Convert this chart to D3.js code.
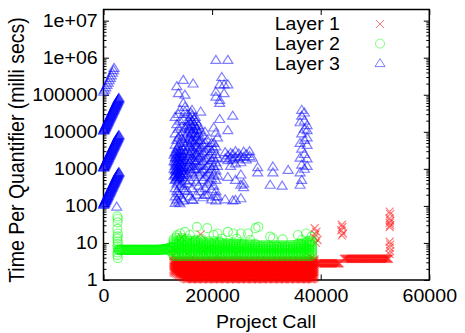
<!DOCTYPE html>
<html>
<head>
<meta charset="utf-8">
<script src="https://cdn.jsdelivr.net/npm/d3@7"></script>
<style>
  body { margin: 0; background: #fff; }
</style>
</head>
<body>
<div class="scatter-chart"></div>
<script>
// ---- chart values ----
const layerNames = ['Layer 1', 'Layer 2', 'Layer 3'];
const layerColors = ['#ff0000', '#00ff00', '#0000ff'];
const xTickValues = [0, 20000, 40000, 60000];
const yTickValues = [1, 10, 100, 1000, 10000, 100000, 1000000, 10000000];
const yTickLabels = ['1', '10', '100', '1000', '10000', '100000', '1e+06', '1e+07'];
const xLabel = 'Project Call';
const yLabel = 'Time Per Quantifier (milli secs)';

// Layer 1 (red): dense cloud, columns of [x, [values]]
const layer1Cloud = [
  [12900, [1.6, 1.8, 2.0, 2.25, 2.5, 2.8, 3.1, 3.4, 4.5]],
  [13150, [1.55, 1.75, 1.95, 2.2, 2.45, 2.75, 3.05, 3.4]],
  [13400, [1.5, 1.7, 1.9, 2.1, 2.35, 2.64, 2.96, 3.3, 3.6, 6]],
  [13650, [1.42, 1.6, 1.8, 2.0, 2.25, 2.5, 2.8, 3.15, 3.5]],
  [13900, [1.35, 1.5, 1.7, 1.9, 2.1, 2.4, 2.7, 3.0, 3.4]],
  [14150, [1.3, 1.45, 1.62, 1.82, 2.05, 2.3, 2.58, 2.9, 3.25]],
  [14400, [1.25, 1.4, 1.55, 1.75, 1.95, 2.2, 2.45, 2.75, 3.1, 3.5, 14]],
  [14650, [1.18, 1.32, 1.48, 1.66, 1.86, 2.08, 2.33, 2.6, 2.92, 3.28]],
  [14900, [1.12, 1.25, 1.4, 1.56, 1.75, 1.95, 2.2, 2.45, 2.75, 3.1, 3.45]],
  [15150, [1.07, 1.2, 1.35, 1.51, 1.7, 1.9, 2.14, 2.4, 2.7, 3.02, 3.38]],
  [15400, [1.05, 1.18, 1.32, 1.48, 1.66, 1.86, 2.1, 2.35, 2.64, 2.96, 3.3, 5]],
  [15650, [1.07, 1.2, 1.35, 1.51, 1.7, 1.9, 2.14, 2.4, 2.7, 3.02, 3.38]],
  [15900, [1.09, 1.23, 1.38, 1.54, 1.73, 1.94, 2.18, 2.45, 2.75, 3.08, 3.45]],
  [16150, [1.06, 1.19, 1.34, 1.5, 1.68, 1.88, 2.12, 2.38, 2.67, 3.0, 3.35]],
  [16400, [1.05, 1.18, 1.32, 1.48, 1.66, 1.86, 2.1, 2.35, 2.64, 2.96, 3.3, 4]],
  [16650, [1.07, 1.2, 1.35, 1.51, 1.7, 1.9, 2.14, 2.4, 2.7, 3.02, 3.38]],
  [16900, [1.1, 1.24, 1.39, 1.55, 1.74, 1.95, 2.19, 2.46, 2.76, 3.1, 3.45]],
  [17150, [1.06, 1.19, 1.34, 1.5, 1.68, 1.88, 2.12, 2.38, 2.67, 3.0, 3.35]],
  [17400, [1.05, 1.18, 1.32, 1.48, 1.66, 1.86, 2.1, 2.35, 2.64, 2.96, 3.3]],
  [17650, [1.07, 1.2, 1.35, 1.51, 1.7, 1.9, 2.14, 2.4, 2.7, 3.02, 3.38]],
  [17900, [1.09, 1.23, 1.38, 1.54, 1.73, 1.94, 2.18, 2.45, 2.75, 3.08, 3.45, 17]],
  [18150, [1.06, 1.19, 1.34, 1.5, 1.68, 1.88, 2.12, 2.38, 2.67, 3.0, 3.35]],
  [18400, [1.05, 1.18, 1.32, 1.48, 1.66, 1.86, 2.1, 2.35, 2.64, 2.96, 3.3, 6]],
  [18650, [1.07, 1.2, 1.35, 1.51, 1.7, 1.9, 2.14, 2.4, 2.7, 3.02, 3.38]],
  [18900, [1.12, 1.25, 1.4, 1.56, 1.75, 1.96, 2.2, 2.47, 2.77, 3.1, 3.45]],
  [19150, [1.06, 1.19, 1.34, 1.5, 1.68, 1.88, 2.12, 2.38, 2.67, 3.0, 3.35]],
  [19400, [1.05, 1.18, 1.32, 1.48, 1.66, 1.86, 2.1, 2.35, 2.64, 2.96, 3.3]],
  [19650, [1.07, 1.2, 1.35, 1.51, 1.7, 1.9, 2.14, 2.4, 2.7, 3.02, 3.38]],
  [19900, [1.09, 1.23, 1.38, 1.54, 1.73, 1.94, 2.18, 2.45, 2.75, 3.08, 3.45]],
  [20150, [1.06, 1.19, 1.34, 1.5, 1.68, 1.88, 2.12, 2.38, 2.67, 3.0, 3.35]],
  [20400, [1.05, 1.18, 1.32, 1.48, 1.66, 1.86, 2.1, 2.35, 2.64, 2.96, 3.3]],
  [20650, [1.07, 1.2, 1.35, 1.51, 1.7, 1.9, 2.14, 2.4, 2.7, 3.02, 3.38]],
  [20900, [1.1, 1.24, 1.39, 1.55, 1.74, 1.95, 2.19, 2.46, 2.76, 3.1, 3.45, 4.5]],
  [21150, [1.06, 1.19, 1.34, 1.5, 1.68, 1.88, 2.12, 2.38, 2.67, 3.0, 3.35]],
  [21400, [1.05, 1.18, 1.32, 1.48, 1.66, 1.86, 2.1, 2.35, 2.64, 2.96, 3.3]],
  [21650, [1.07, 1.2, 1.35, 1.51, 1.7, 1.9, 2.14, 2.4, 2.7, 3.02, 3.38]],
  [21900, [1.09, 1.23, 1.38, 1.54, 1.73, 1.94, 2.18, 2.45, 2.75, 3.08, 3.45]],
  [22150, [1.06, 1.19, 1.34, 1.5, 1.68, 1.88, 2.12, 2.38, 2.67, 3.0, 3.35]],
  [22400, [1.05, 1.18, 1.32, 1.48, 1.66, 1.86, 2.1, 2.35, 2.64, 2.96, 3.3]],
  [22650, [1.07, 1.2, 1.35, 1.51, 1.7, 1.9, 2.14, 2.4, 2.7, 3.02, 3.38]],
  [22900, [1.12, 1.25, 1.4, 1.56, 1.75, 1.96, 2.2, 2.47, 2.77, 3.1, 3.45]],
  [23150, [1.06, 1.19, 1.34, 1.5, 1.68, 1.88, 2.12, 2.38, 2.67, 3.0, 3.35]],
  [23400, [1.05, 1.18, 1.32, 1.48, 1.66, 1.86, 2.1, 2.35, 2.64, 2.96, 3.3]],
  [23650, [1.07, 1.2, 1.35, 1.51, 1.7, 1.9, 2.14, 2.4, 2.7, 3.02, 3.38]],
  [23900, [1.09, 1.23, 1.38, 1.54, 1.73, 1.94, 2.18, 2.45, 2.75, 3.08, 3.45]],
  [24150, [1.06, 1.19, 1.34, 1.5, 1.68, 1.88, 2.12, 2.38, 2.67, 3.0, 3.35]],
  [24400, [1.05, 1.18, 1.32, 1.48, 1.66, 1.86, 2.1, 2.35, 2.64, 2.96, 3.3, 5]],
  [24650, [1.07, 1.2, 1.35, 1.51, 1.7, 1.9, 2.14, 2.4, 2.7, 3.02, 3.38]],
  [24900, [1.1, 1.24, 1.39, 1.55, 1.74, 1.95, 2.19, 2.46, 2.76, 3.1, 3.45]],
  [25150, [1.06, 1.19, 1.34, 1.5, 1.68, 1.88, 2.12, 2.38, 2.67, 3.0, 3.35]],
  [25400, [1.05, 1.18, 1.32, 1.48, 1.66, 1.86, 2.1, 2.35, 2.64, 2.96, 3.3]],
  [25650, [1.07, 1.2, 1.35, 1.51, 1.7, 1.9, 2.14, 2.4, 2.7, 3.02, 3.38]],
  [25900, [1.09, 1.23, 1.38, 1.54, 1.73, 1.94, 2.18, 2.45, 2.75, 3.08, 3.45]],
  [26150, [1.06, 1.19, 1.34, 1.5, 1.68, 1.88, 2.12, 2.38, 2.67, 3.0, 3.35]],
  [26400, [1.05, 1.18, 1.32, 1.48, 1.66, 1.86, 2.1, 2.35, 2.64, 2.96, 3.3]],
  [26650, [1.07, 1.2, 1.35, 1.51, 1.7, 1.9, 2.14, 2.4, 2.7, 3.02, 3.38]],
  [26900, [1.12, 1.25, 1.4, 1.56, 1.75, 1.96, 2.2, 2.47, 2.77, 3.1, 3.45]],
  [27150, [1.06, 1.19, 1.34, 1.5, 1.68, 1.88, 2.12, 2.38, 2.67, 3.0, 3.35]],
  [27400, [1.05, 1.18, 1.32, 1.48, 1.66, 1.86, 2.1, 2.35, 2.64, 2.96, 3.3]],
  [27650, [1.07, 1.2, 1.35, 1.51, 1.7, 1.9, 2.14, 2.4, 2.7, 3.02, 3.38]],
  [27900, [1.09, 1.23, 1.38, 1.54, 1.73, 1.94, 2.18, 2.45, 2.75, 3.08, 3.45]],
  [28150, [1.06, 1.19, 1.34, 1.5, 1.68, 1.88, 2.12, 2.38, 2.67, 3.0, 3.35]],
  [28400, [1.05, 1.18, 1.32, 1.48, 1.66, 1.86, 2.1, 2.35, 2.64, 2.96, 3.3]],
  [28650, [1.07, 1.2, 1.35, 1.51, 1.7, 1.9, 2.14, 2.4, 2.7, 3.02, 3.38]],
  [28900, [1.1, 1.24, 1.39, 1.55, 1.74, 1.95, 2.19, 2.46, 2.76, 3.1, 3.45]],
  [29150, [1.06, 1.19, 1.34, 1.5, 1.68, 1.88, 2.12, 2.38, 2.67, 3.0, 3.35]],
  [29400, [1.05, 1.18, 1.32, 1.48, 1.66, 1.86, 2.1, 2.35, 2.64, 2.96, 3.3]],
  [29650, [1.07, 1.2, 1.35, 1.51, 1.7, 1.9, 2.14, 2.4, 2.7, 3.02, 3.38]],
  [29900, [1.09, 1.23, 1.38, 1.54, 1.73, 1.94, 2.18, 2.45, 2.75, 3.08, 3.45]],
  [30150, [1.06, 1.19, 1.34, 1.5, 1.68, 1.88, 2.12, 2.38, 2.67, 3.0, 3.35]],
  [30400, [1.05, 1.18, 1.32, 1.48, 1.66, 1.86, 2.1, 2.35, 2.64, 2.96, 3.3]],
  [30650, [1.07, 1.2, 1.35, 1.51, 1.7, 1.9, 2.14, 2.4, 2.7, 3.02, 3.38]],
  [30900, [1.12, 1.25, 1.4, 1.56, 1.75, 1.96, 2.2, 2.47, 2.77, 3.1, 3.45]],
  [31150, [1.06, 1.19, 1.34, 1.5, 1.68, 1.88, 2.12, 2.38, 2.67, 3.0, 3.35]],
  [31400, [1.05, 1.18, 1.32, 1.48, 1.66, 1.86, 2.1, 2.35, 2.64, 2.96, 3.3]],
  [31650, [1.07, 1.2, 1.35, 1.51, 1.7, 1.9, 2.14, 2.4, 2.7, 3.02, 3.38]],
  [31900, [1.09, 1.23, 1.38, 1.54, 1.73, 1.94, 2.18, 2.45, 2.75, 3.08, 3.45]],
  [32150, [1.06, 1.19, 1.34, 1.5, 1.68, 1.88, 2.12, 2.38, 2.67, 3.0, 3.35]],
  [32400, [1.05, 1.18, 1.32, 1.48, 1.66, 1.86, 2.1, 2.35, 2.64, 2.96, 3.3]],
  [32650, [1.07, 1.2, 1.35, 1.51, 1.7, 1.9, 2.14, 2.4, 2.7, 3.02, 3.38]],
  [32900, [1.1, 1.24, 1.39, 1.55, 1.74, 1.95, 2.19, 2.46, 2.76, 3.1, 3.45]],
  [33150, [1.06, 1.19, 1.34, 1.5, 1.68, 1.88, 2.12, 2.38, 2.67, 3.0, 3.35]],
  [33400, [1.05, 1.18, 1.32, 1.48, 1.66, 1.86, 2.1, 2.35, 2.64, 2.96, 3.3]],
  [33650, [1.07, 1.2, 1.35, 1.51, 1.7, 1.9, 2.14, 2.4, 2.7, 3.02, 3.38]],
  [33900, [1.09, 1.23, 1.38, 1.54, 1.73, 1.94, 2.18, 2.45, 2.75, 3.08, 3.45]],
  [34150, [1.06, 1.19, 1.34, 1.5, 1.68, 1.88, 2.12, 2.38, 2.67, 3.0, 3.35]],
  [34400, [1.05, 1.18, 1.32, 1.48, 1.66, 1.86, 2.1, 2.35, 2.64, 2.96, 3.3]],
  [34650, [1.07, 1.2, 1.35, 1.51, 1.7, 1.9, 2.14, 2.4, 2.7, 3.02, 3.38]],
  [34900, [1.12, 1.25, 1.4, 1.56, 1.75, 1.96, 2.2, 2.47, 2.77, 3.1, 3.45]],
  [35150, [1.06, 1.19, 1.34, 1.5, 1.68, 1.88, 2.12, 2.38, 2.67, 3.0, 3.35]],
  [35400, [1.05, 1.18, 1.32, 1.48, 1.66, 1.86, 2.1, 2.35, 2.64, 2.96, 3.3]],
  [35650, [1.07, 1.2, 1.35, 1.51, 1.7, 1.9, 2.14, 2.4, 2.7, 3.02, 3.38]],
  [35900, [1.09, 1.23, 1.38, 1.54, 1.73, 1.94, 2.18, 2.45, 2.75, 3.08, 3.45]],
  [36150, [1.06, 1.19, 1.34, 1.5, 1.68, 1.88, 2.12, 2.38, 2.67, 3.0, 3.35]],
  [36400, [1.05, 1.18, 1.32, 1.48, 1.66, 1.86, 2.1, 2.35, 2.64, 2.96, 3.3]],
  [36650, [1.07, 1.2, 1.35, 1.51, 1.7, 1.9, 2.14, 2.4, 2.7, 3.02, 3.38]],
  [36900, [1.1, 1.24, 1.39, 1.55, 1.74, 1.95, 2.19, 2.46, 2.76, 3.1, 3.45]],
  [37150, [1.06, 1.19, 1.34, 1.5, 1.68, 1.88, 2.12, 2.38, 2.67, 3.0, 3.35]],
  [37400, [1.05, 1.18, 1.32, 1.48, 1.66, 1.86, 2.1, 2.35, 2.64, 2.96, 3.3, 3.8]],
  [37650, [1.07, 1.2, 1.35, 1.51, 1.7, 1.9, 2.14, 2.4, 2.7, 3.02, 3.38]],
  [37900, [1.09, 1.23, 1.38, 1.54, 1.73, 1.94, 2.18, 2.45, 2.75, 3.08, 3.45, 4.2]],
  [38150, [1.06, 1.19, 1.34, 1.5, 1.68, 1.88, 2.12, 2.38, 2.67, 3.0, 3.35]],
  [38400, [1.05, 1.18, 1.32, 1.48, 1.66, 1.86, 2.1, 2.35, 2.64, 2.96, 3.3, 4]],
  [38650, [1.1, 1.24, 1.39, 1.55, 1.74, 1.95, 2.19, 2.46, 2.76, 3.1, 3.45]],
  [38850, [1.15, 1.3, 1.45, 1.62, 1.82, 2.05, 2.3, 2.58, 2.9, 3.25, 3.6]]
];
const layer1StepLowX = [
  39300, 39450, 39600, 39750, 39900, 40050, 40200, 40350, 40500, 40650, 40800, 40950,
  41100, 41250, 41400, 41550, 41700, 41850, 42000, 42150, 42300, 42450, 42600, 42750,
  42900, 43050, 43200, 43350, 43500
];
const layer1StepLowY = [
  2.82, 2.8, 2.83, 2.82, 2.8, 2.84, 2.82, 2.8, 2.83, 2.82, 2.81, 2.83,
  2.82, 2.8, 2.83, 2.82, 2.81, 2.83, 2.82, 2.8, 2.83, 2.82, 2.81, 2.83,
  2.82, 2.8, 2.83, 2.82, 2.82
];
const layer1StepHighX = [
  44300, 44450, 44600, 44750, 44900, 45050, 45200, 45350, 45500, 45650, 45800, 45950,
  46100, 46250, 46400, 46550, 46700, 46850, 47000, 47150, 47300, 47450, 47600, 47750,
  47900, 48050, 48200, 48350, 48500, 48650, 48800, 48950, 49100, 49250, 49400, 49550,
  49700, 49850, 50000, 50150, 50300, 50450, 50600, 50750, 50900, 51050, 51200, 51350,
  51500, 51650, 51800, 51950, 52100, 52250, 52400, 52550
];
const layer1StepHighY = [
  3.75, 3.72, 3.76, 3.75, 3.73, 3.76, 3.75, 3.72, 3.76, 3.75, 3.73, 3.76,
  3.75, 3.72, 3.76, 3.75, 3.73, 3.76, 3.75, 3.72, 3.76, 3.75, 3.73, 3.76,
  3.75, 3.72, 3.76, 3.75, 3.73, 3.76, 3.75, 3.72, 3.76, 3.75, 3.73, 3.76,
  3.75, 3.72, 3.76, 3.75, 3.73, 3.76, 3.75, 3.72, 3.76, 3.75, 3.73, 3.76,
  3.75, 3.72, 3.76, 3.75, 3.73, 3.76, 3.75, 3.74
];
const layer1Outliers = [
  [38900, 25], [39200, 20], [39000, 17], [38800, 14], [39400, 12], [39100, 10],
  [43900, 31], [44000, 27], [43800, 22], [44100, 18], [43900, 16],
  [52700, 70], [52800, 60], [52700, 46], [52800, 40], [52700, 35], [52800, 30], [52700, 27],
  [52700, 10.8], [52800, 9], [52700, 7.5], [52800, 6], [52700, 5]
];

// Layer 2 (green)
const layer2Column = [
  [2550, 52], [2650, 45], [2600, 36], [2550, 24], [2650, 18], [2600, 15], [2550, 13],
  [2650, 11], [2600, 9.5], [2550, 8], [2650, 6.7], [2600, 5.5], [2550, 4.7], [2650, 3.9]
];
const layer2BandX = [
  2750, 2850, 2950, 3050, 3150, 3250, 3350, 3450, 3550, 3650, 3750, 3850, 3950, 4050,
  4150, 4250, 4350, 4450, 4550, 4650, 4750, 4850, 4950, 5050, 5150, 5250, 5350, 5450,
  5550, 5650, 5750, 5850, 5950, 6050, 6150, 6250, 6350, 6450, 6550, 6650, 6750, 6850,
  6950, 7050, 7150, 7250, 7350, 7450, 7550, 7650, 7750, 7850, 7950, 8050, 8150, 8250,
  8350, 8450, 8550, 8650, 8750, 8850, 8950, 9050, 9150, 9250, 9350, 9450, 9550, 9650,
  9750, 9850, 9950, 10050, 10150, 10250, 10350, 10450, 10550, 10650, 10750, 10850,
  10950, 11050, 11150, 11250, 11350, 11450, 11550, 11650, 11750, 11850, 11950, 12050,
  12150, 12250, 12350, 12450, 12550, 12650
];
const layer2BandY = [
  6.5, 6.48, 6.5, 6.45, 6.5, 6.52, 6.5, 6.48, 6.5, 6.55, 6.5, 6.48, 6.5, 6.45,
  6.5, 6.52, 6.5, 6.48, 6.5, 6.55, 6.5, 6.48, 6.5, 6.45, 6.5, 6.52, 6.5, 6.48,
  6.5, 6.55, 6.5, 6.48, 6.5, 6.45, 6.5, 6.52, 6.5, 6.48, 6.5, 6.55, 6.5, 6.48,
  6.5, 6.45, 6.5, 6.52, 6.5, 6.48, 6.5, 6.55, 6.5, 6.48, 6.5, 6.45, 6.5, 6.52,
  6.5, 6.48, 6.5, 6.55, 6.5, 6.48, 6.5, 6.45, 6.5, 6.52, 6.5, 6.48, 6.5, 6.55,
  6.5, 6.48, 6.5, 6.5, 6.55, 6.5, 6.55, 6.6, 6.6, 6.55, 6.6, 6.65,
  6.6, 6.7, 6.7, 6.75, 6.8, 6.85, 6.9, 7.0, 7.0, 6.4, 7.2, 6.3,
  7.35, 6.2, 7.5, 6.1, 7.6, 7.6
];
const layer2Cloud = [
  [12900, [4.4, 4.9, 5.5, 6.2, 6.9, 7.8, 8.7, 9.8, 11, 12.5]],
  [13400, [4.5, 5.0, 5.6, 6.3, 7.0, 7.9, 8.9, 10, 11.2, 14]],
  [13900, [4.4, 4.9, 5.5, 6.2, 6.9, 7.8, 8.7, 9.8, 11, 12]],
  [14400, [4.5, 5.0, 5.6, 6.3, 7.0, 7.9, 8.9, 10, 11.5, 13.5]],
  [14900, [4.4, 4.9, 5.5, 6.2, 6.9, 7.8, 8.7, 9.8, 11, 12]],
  [15400, [4.5, 5.0, 5.6, 6.3, 7.0, 7.9, 8.9, 10, 11.2, 13]],
  [15900, [4.4, 4.9, 5.5, 6.2, 6.9, 7.8, 8.7, 9.8, 11.5]],
  [16400, [4.5, 5.0, 5.6, 6.3, 7.0, 7.9, 8.9, 10, 11.2]],
  [16900, [4.4, 4.9, 5.5, 6.2, 6.9, 7.8, 8.7, 9.8, 11, 12]],
  [17400, [4.5, 5.0, 5.6, 6.3, 7.0, 7.9, 8.9, 10, 11]],
  [17900, [4.4, 4.9, 5.5, 6.2, 6.9, 7.8, 8.7, 9.8, 11.8]],
  [18400, [4.5, 5.0, 5.6, 6.3, 7.0, 7.9, 8.9, 10, 11]],
  [18900, [4.4, 4.9, 5.5, 6.2, 6.9, 7.8, 8.7, 9.8]],
  [19400, [4.5, 5.0, 5.6, 6.3, 7.0, 7.9, 8.9, 10, 11]],
  [19900, [4.4, 4.9, 5.5, 6.2, 6.9, 7.8, 8.7, 9.8]],
  [20400, [4.5, 5.0, 5.6, 6.3, 7.0, 7.9, 8.9, 10, 11.2]],
  [20900, [4.4, 4.9, 5.5, 6.2, 6.9, 7.8, 8.7, 9.8]],
  [21400, [4.5, 5.0, 5.6, 6.3, 7.0, 7.9, 8.9, 10, 10.8]],
  [21900, [4.4, 4.9, 5.5, 6.2, 6.9, 7.8, 8.7, 9.8]],
  [22400, [4.5, 5.0, 5.6, 6.3, 7.0, 7.9, 8.9, 9.8]],
  [22900, [4.4, 4.9, 5.5, 6.2, 6.9, 7.8, 8.7, 9.8]],
  [23400, [4.5, 5.0, 5.6, 6.3, 7.0, 7.9, 8.9, 9.6]],
  [23900, [4.4, 4.9, 5.5, 6.2, 6.9, 7.8, 8.7, 9.8]],
  [24400, [4.5, 5.0, 5.6, 6.3, 7.0, 7.9, 8.9, 9.6]],
  [24900, [4.4, 4.9, 5.5, 6.2, 6.9, 7.8, 8.7, 9.6]],
  [25400, [4.5, 5.0, 5.6, 6.3, 7.0, 7.9, 8.9, 9.4]],
  [25900, [4.4, 4.9, 5.5, 6.2, 6.9, 7.8, 8.7, 9.6]],
  [26400, [4.5, 5.0, 5.6, 6.3, 7.0, 7.9, 8.8]],
  [26900, [4.4, 4.9, 5.5, 6.2, 6.9, 7.8, 8.7, 9.6]],
  [27400, [4.5, 5.0, 5.6, 6.3, 7.0, 7.9, 8.8]],
  [27900, [4.4, 4.9, 5.5, 6.2, 6.9, 7.8, 8.7, 9.4]],
  [28400, [4.5, 5.0, 5.6, 6.3, 7.0, 7.9, 8.8]],
  [28900, [4.4, 4.9, 5.5, 6.2, 6.9, 7.8, 8.5]],
  [29400, [4.5, 5.0, 5.6, 6.3, 7.0, 7.9, 8.8]],
  [29900, [4.4, 4.9, 5.5, 6.2, 6.9, 7.8, 8.5]],
  [30400, [4.5, 5.0, 5.6, 6.3, 7.0, 7.9, 8.8]],
  [30900, [4.4, 4.9, 5.5, 6.2, 6.9, 7.8, 8.5]],
  [31400, [4.5, 5.0, 5.6, 6.3, 7.0, 7.9, 8.8]],
  [31900, [4.4, 4.9, 5.5, 6.2, 6.9, 7.8, 8.5]],
  [32400, [4.5, 5.0, 5.6, 6.3, 7.0, 7.9, 8.8]],
  [32900, [4.4, 4.9, 5.5, 6.2, 6.9, 7.8, 8.5]],
  [33400, [4.5, 5.0, 5.6, 6.3, 7.0, 7.9, 8.8]],
  [33900, [4.4, 4.9, 5.5, 6.2, 6.9, 7.8, 8.5]],
  [34400, [4.5, 5.0, 5.6, 6.3, 7.0, 7.9, 8.8]],
  [34900, [4.4, 4.9, 5.5, 6.2, 6.9, 7.8, 8.7]],
  [35400, [4.5, 5.0, 5.6, 6.3, 7.0, 7.9, 8.9]],
  [35900, [4.4, 4.9, 5.5, 6.2, 6.9, 7.8, 8.7, 9.6]],
  [36400, [4.5, 5.0, 5.6, 6.3, 7.0, 7.9, 8.9, 9.4]],
  [36900, [4.4, 4.9, 5.5, 6.2, 6.9, 7.8, 8.7, 9.8]],
  [37400, [4.5, 5.0, 5.6, 6.3, 7.0, 7.9, 8.9, 10, 11]],
  [37900, [4.4, 4.9, 5.5, 6.2, 6.9, 7.8, 8.7, 9.8, 11.5]],
  [38400, [4.5, 5.0, 5.6, 6.3, 7.0, 7.9, 8.9, 10, 11]]
];
const layer2Outliers = [
  [14100, 18], [15000, 20], [17200, 27], [15900, 16.4], [19100, 25], [20300, 16.4],
  [21000, 18], [22900, 20], [23900, 18], [25300, 18], [26600, 18], [28000, 25],
  [28500, 27], [30700, 14.8], [31200, 13.4], [35800, 16.4], [37300, 18], [38300, 14.8],
  [13500, 16], [18000, 13], [24500, 13], [33000, 12.5], [36500, 12], [27000, 12], [21800, 13]
];

// Layer 3 (blue): three dense streaks near x = 0 share the same x positions
const layer3StreakX = [
  0, 50, 100, 150, 200, 245, 290, 340, 390, 440, 490, 540, 590, 640, 690, 740, 790, 835,
  880, 930, 980, 1030, 1080, 1130, 1180, 1230, 1280, 1330, 1380, 1425, 1470, 1520, 1570,
  1620, 1670, 1720, 1770, 1820, 1870, 1920, 1970, 2015, 2060, 2110, 2160, 2210, 2260,
  2310, 2360, 2410, 2460, 2505, 2550, 2600, 2650, 2700, 2750, 2800, 2850
];
const layer3StreakA = [
  106, 110, 114, 118, 122, 126, 131, 135, 140, 145, 151, 156, 161, 167, 173, 179, 186, 192,
  199, 206, 214, 222, 230, 238, 246, 255, 264, 273, 283, 293, 304, 315, 326, 338, 350,
  363, 376, 389, 403, 417, 432, 448, 464, 480, 497, 515, 534, 553, 573, 593, 614, 636,
  659, 683, 707, 733, 759, 786, 814
];
const layer3StreakB = [
  1070, 1100, 1140, 1180, 1230, 1270, 1310, 1360, 1410, 1450, 1500, 1560, 1620, 1670,
  1730, 1800, 1870, 1930, 1990, 2070, 2150, 2220, 2290, 2380, 2470, 2550, 2640, 2740,
  2840, 2940, 3040, 3150, 3270, 3380, 3500, 3630, 3770, 3900, 4030, 4180, 4330, 4480,
  4640, 4810, 4980, 5160, 5340, 5540, 5740, 5940, 6140, 6370, 6600, 6830, 7070, 7330,
  7600, 7870, 8140
];
const layer3StreakC = [
  10600, 11000, 11400, 11800, 12200, 12600, 13100, 13500, 14000, 14500, 15100, 15600,
  16100, 16700, 17300, 17900, 18600, 19200, 19900, 20600, 21400, 22200, 23000, 23800,
  24600, 25500, 26400, 27300, 28300, 29300, 30400, 31500, 32600, 33800, 35000, 36300,
  37600, 38900, 40300, 41700, 43200, 44800, 46400, 48000, 49700, 51500, 53400, 55300,
  57300, 59300, 61400, 63600, 65900, 68200, 70700, 73200, 75900, 78600, 81400
];
const layer3StreakD = [
  [0, 120000], [200, 136000], [420, 158000], [640, 183000], [850, 212000], [1050, 245000],
  [1250, 283000], [1450, 330000], [1650, 390000], [1850, 460000], [1950, 530000]
];
const layer3Single = [[2430, 95]];
const layer3Cloud = [
  [13000, [2400, 1600, 1000, 650]],
  [13200, [25000, 9000, 4500, 2800, 2000, 1500, 1200, 900, 700, 500, 300, 180, 120]],
  [13350, [2700, 2100, 1400, 950, 720, 520]],
  [13500, [170000, 16000, 6000, 3500, 2500, 1800, 1300, 1000, 800, 600, 400, 250, 150]],
  [13650, [3000, 1900, 1250, 880, 560]],
  [13800, [110000, 30000, 12000, 7000, 4000, 2200, 1600, 1100, 850, 650, 450, 220, 130]],
  [13950, [2500, 1700, 1150, 780, 600]],
  [14100, [39000, 20000, 8000, 5000, 3000, 2000, 1400, 950, 750, 550, 350, 200, 117]],
  [14250, [3200, 2200, 1500, 1050, 680]],
  [14400, [14000, 6500, 3800, 2600, 1700, 1200, 900, 600, 400, 160]],
  [14550, [2000, 1300, 850]],
  [14700, [250000, 60000, 22000, 10000, 5500, 3300, 2300, 1500, 1000, 700, 300, 140]],
  [15000, [100000, 47000, 35000, 13000, 7500, 4200, 2700, 1700, 1100, 760, 480, 260]],
  [15500, [30000, 15000, 9000, 5000, 3000, 1800, 1100, 700, 400, 250]],
  [15700, [20000, 12000, 6500, 3800, 2200, 1300]],
  [15900, [25000, 18000, 12000, 7000, 4200, 2500, 1500, 900, 500, 180]],
  [16100, [33000, 16000, 9000, 5500, 3000, 1700, 1000]],
  [16300, [39000, 28000, 20000, 14000, 10000, 6000, 3500, 2000, 1200, 800, 300, 150]],
  [16500, [200000, 144]],
  [16700, [22000, 16000, 11000, 8000, 5000, 2800, 1700, 1000, 600]],
  [16900, [25000, 14000, 9000, 6000, 3800, 2300, 1400]],
  [17100, [19000, 12000, 7500, 4500, 2600, 1600, 1000, 450, 200]],
  [17300, [12000, 7000, 4000, 2400]],
  [17500, [15000, 9000, 5500, 3200, 2000, 1200, 700, 350]],
  [17900, [35000, 11000, 6000, 3700, 2200, 1300, 800, 250]],
  [18300, [8000, 4500, 2700, 1600, 900, 500, 170]],
  [18700, [10000, 5000, 3000, 1800, 1000, 600, 300, 200]],
  [19100, [6000, 3500, 2000, 1200, 700, 400, 200]],
  [19500, [4000, 2400, 1400, 800, 450]],
  [19900, [5000, 3000, 1700, 1000, 550, 280, 150]],
  [20300, [13000, 5000, 3500, 2000, 1200, 700, 350]],
  [20700, [870000, 120000, 88000, 9500, 4000, 2500, 1500, 900, 500, 250, 180, 140]],
  [21000, [7000, 2000, 1200, 650, 180]],
  [21400, [190000, 72000, 60000, 22000]],
  [21800, [300000]],
  [22200, [190000, 110000]],
  [22400, [2800, 1900, 150]],
  [22900, [870000, 190000, 11000, 2300, 1700, 600]],
  [23400, [2700, 2000, 1200]],
  [23800, [27000, 2500, 1800, 140]],
  [24300, [3000, 2100, 1400, 500, 145]],
  [24900, [2600, 1900]],
  [25300, [2200, 1500, 700, 370, 160]],
  [25800, [2900, 2100, 400, 320]],
  [26300, [2500, 1800]],
  [26900, [3000, 2200]],
  [27400, [2000]],
  [28400, [1100, 800]],
  [30700, [370]],
  [31200, [1150, 800]],
  [32900, [350]],
  [34000, [930]],
  [36200, [18000, 5000, 2000, 800, 370]],
  [36500, [39000, 27000, 9000, 3500, 1300, 500]],
  [37000, [33000, 20000, 12000, 6000, 2500, 1000]],
  [37500, [15000, 11000, 7000, 4400, 1900, 1200]]
];

// ---- layout ----
const W = 465, H = 333;
const FONT = "'Liberation Sans', Arial, Helvetica, sans-serif";
const STRETCH = 1.12;   // the reference text is a little wider than it is tall

function fromColumns(cols) {
  const pts = [];
  cols.forEach(c => c[1].forEach(v => pts.push([c[0], v])));
  return pts;
}
function zip(xs, ys) {
  return xs.map((v, i) => [v, ys[i]]);
}

const layers = [
  fromColumns(layer1Cloud).concat(
    zip(layer1StepLowX, layer1StepLowY), zip(layer1StepHighX, layer1StepHighY), layer1Outliers),
  layer2Column.concat(zip(layer2BandX, layer2BandY), fromColumns(layer2Cloud), layer2Outliers),
  zip(layer3StreakX, layer3StreakA).concat(
    zip(layer3StreakX, layer3StreakB), zip(layer3StreakX, layer3StreakC),
    layer3StreakD, layer3Single, fromColumns(layer3Cloud))
];

const x = d3.scaleLinear().domain([0, 60000]).range([103.5, 429.3]);
const y = d3.scaleLog().domain([1, 2e7]).range([280, 9.5]);

const minorTicks = [];
yTickValues.slice(0, -1).forEach(d => {
  for (let k = 2; k <= 9; k++) minorTicks.push(d * k);
});

const svg = d3.select('.scatter-chart')
  .append('svg')
  .attr('width', W)
  .attr('height', H)
  .style('background', '#fff');

function styleAxis(g) {
  g.select('.domain').remove();
  g.attr('font-family', FONT).attr('font-size', 17.5);
  g.selectAll('line').attr('stroke', '#000').attr('stroke-width', 1);
  g.selectAll('text').attr('fill', '#000').attr('transform', `scale(${STRETCH},1)`);
}

// axes (ticks point inward like gnuplot)
svg.append('g')
  .attr('transform', `translate(${x(0)},0)`)
  .call(d3.axisLeft(y).tickValues(yTickValues)
    .tickFormat(d => yTickLabels[yTickValues.indexOf(d)])
    .tickSize(-5.5).tickPadding(5.2))
  .call(styleAxis);
svg.append('g')
  .attr('transform', `translate(${x(0)},0)`)
  .call(d3.axisLeft(y).tickValues(minorTicks).tickFormat('').tickSize(-3))
  .call(styleAxis);
svg.append('g')
  .attr('transform', `translate(${x(60000)},0)`)
  .call(d3.axisRight(y).tickValues(yTickValues).tickFormat('').tickSize(-5.5))
  .call(styleAxis);
svg.append('g')
  .attr('transform', `translate(${x(60000)},0)`)
  .call(d3.axisRight(y).tickValues(minorTicks).tickFormat('').tickSize(-3))
  .call(styleAxis);
svg.append('g')
  .attr('transform', `translate(0,${y(1)})`)
  .call(d3.axisBottom(x).tickValues(xTickValues).tickFormat(d3.format('d'))
    .tickSize(-5.5).tickPadding(10))
  .call(styleAxis);
svg.append('g')
  .attr('transform', `translate(0,${y(2e7)})`)
  .call(d3.axisTop(x).tickValues(xTickValues).tickFormat('').tickSize(-5.5))
  .call(styleAxis);

svg.append('rect')
  .attr('x', x(0))
  .attr('y', y(2e7))
  .attr('width', x(60000) - x(0))
  .attr('height', y(1) - y(2e7))
  .attr('fill', 'none')
  .attr('stroke', '#000')
  .attr('stroke-width', 1.5);

// markers: cross, circle, triangle
const markerPaths = [
  'M-4,-4L4,4M-4,4L4,-4',
  'M4.5,0A4.5,4.5 0 1,1 -4.5,0A4.5,4.5 0 1,1 4.5,0Z',
  'M0,-4.6L5,3.4L-5,3.4Z'
];
const markerOpacity = 0.5;

layers.forEach((pts, i) => {
  svg.append('g')
    .attr('class', 'layer' + (i + 1))
    .selectAll('path')
    .data(pts)
    .enter().append('path')
    .attr('d', markerPaths[i])
    .attr('transform', d => `translate(${x(d[0])},${y(d[1])})`)
    .attr('fill', 'none')
    .attr('stroke', layerColors[i])
    .attr('stroke-opacity', markerOpacity)
    .attr('stroke-width', 1.2);
});

// legend
const legendY = [30.3, 49.9, 69.5];
const legend = svg.append('g').attr('font-family', FONT).attr('font-size', 17.5);
layerNames.forEach((name, i) => {
  legend.append('text')
    .attr('transform', `translate(340,${legendY[i]}) scale(${STRETCH},1)`)
    .attr('text-anchor', 'end')
    .text(name);
  legend.append('path')
    .attr('d', markerPaths[i])
    .attr('transform', `translate(380,${legendY[i] - 6.3})`)
    .attr('fill', 'none')
    .attr('stroke', layerColors[i])
    .attr('stroke-opacity', markerOpacity);
});

// axis titles
svg.append('text')
  .attr('transform', `translate(266,327.5) scale(${STRETCH},1)`)
  .attr('text-anchor', 'middle')
  .attr('font-family', FONT)
  .attr('font-size', 17.5)
  .text(xLabel);
svg.append('text')
  .attr('transform', `translate(24,150) rotate(-90) scale(1,${STRETCH})`)
  .attr('text-anchor', 'middle')
  .attr('font-family', FONT)
  .attr('font-size', 19.5)
  .text(yLabel);
</script>
</body>
</html>
